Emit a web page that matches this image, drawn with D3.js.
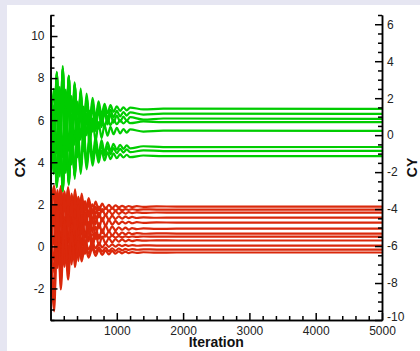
<!DOCTYPE html>
<html>
<head>
<meta charset="utf-8">
<script src="https://cdn.jsdelivr.net/npm/d3@7"></script>
<style>
  body { margin: 0; background: #e6e6f2; }
  svg { display: block; }
  .tick text { font-family: "Liberation Sans", Arial, sans-serif; font-size: 12px; fill: #222; }
  .ttl { font-family: "Liberation Sans", Arial, sans-serif; font-size: 14px; font-weight: bold; fill: #111; }
</style>
</head>
<body>
<script>
var cyIter = [0, 50, 95, 140, 185, 230, 275, 320, 365, 410, 455, 500, 545, 590, 635, 680, 725, 770, 815, 860, 905, 950, 1000, 1050, 1100, 1150, 1200, 1400, 1700, 5000];
var cy1 = [2.6, -0.65, 3.38, -0.77, 3.61, -0.60, 3.21, -0.19, 2.85, 0.16, 2.52, 0.45, 2.25, 0.71, 2.02, 0.91, 1.83, 1.08, 1.70, 1.19, 1.62, 1.26, 1.56, 1.31, 1.51, 1.34, 1.49, 1.39, 1.43, 1.42];
var cy2 = [2.2, -1.19, 3.36, -1.32, 3.62, -1.14, 3.18, -0.67, 2.76, -0.28, 2.40, 0.06, 2.09, 0.34, 1.83, 0.58, 1.62, 0.76, 1.46, 0.89, 1.37, 0.97, 1.31, 1.02, 1.25, 1.06, 1.23, 1.11, 1.16, 1.15];
var cy3 = [3.1, -1.82, 3.43, -1.97, 3.73, -1.76, 3.22, -1.22, 2.74, -0.77, 2.32, -0.38, 1.96, -0.05, 1.66, 0.22, 1.42, 0.43, 1.24, 0.58, 1.14, 0.67, 1.06, 0.73, 1.00, 0.78, 0.97, 0.84, 0.90, 0.88];
var cy4 = [-1.6, 2.51, -0.99, 2.61, -1.19, 2.47, -0.85, 2.11, -0.53, 1.81, -0.25, 1.55, -0.01, 1.33, 0.19, 1.15, 0.35, 1.01, 0.47, 0.91, 0.54, 0.85, 0.59, 0.81, 0.63, 0.78, 0.65, 0.74, 0.70, 0.71];
var cy5 = [1.4, -2.11, 2.44, -2.24, 2.70, -2.06, 2.26, -1.59, 1.84, -1.20, 1.48, -0.86, 1.17, -0.58, 0.91, -0.34, 0.70, -0.16, 0.54, -0.03, 0.45, 0.05, 0.39, 0.10, 0.33, 0.14, 0.31, 0.19, 0.24, 0.23];
var cy6 = [-2.9, 1.61, -2.77, 1.74, -3.02, 1.56, -2.59, 1.11, -2.19, 0.74, -1.84, 0.41, -1.54, 0.14, -1.29, -0.09, -1.09, -0.27, -0.94, -0.39, -0.85, -0.47, -0.79, -0.52, -0.74, -0.55, -0.72, -0.60, -0.65, -0.64];
var cy7 = [0.4, 1.13, -2.72, 1.24, -2.94, 1.09, -2.57, 0.69, -2.21, 0.36, -1.91, 0.07, -1.64, -0.17, -1.42, -0.37, -1.25, -0.52, -1.11, -0.63, -1.04, -0.70, -0.98, -0.74, -0.94, -0.77, -0.92, -0.82, -0.86, -0.85];
var cy8 = [-3.0, 0.67, -2.83, 0.77, -3.03, 0.63, -2.69, 0.27, -2.37, -0.03, -2.09, -0.29, -1.85, -0.51, -1.65, -0.69, -1.49, -0.83, -1.37, -0.93, -1.30, -0.99, -1.25, -1.03, -1.21, -1.06, -1.19, -1.10, -1.14, -1.13];

// CX = red, left axis
var cxIter = [0, 55, 105, 155, 210, 265, 320, 370, 420, 470, 520, 575, 630, 680, 730, 780, 830, 880, 930, 980, 1030, 1080, 1130, 1180, 1230, 1300, 1400, 1600, 1900, 5000];
var cx1 = [1.2, 2.89, 0.89, 2.87, 0.93, 2.82, 1.01, 2.71, 1.14, 2.51, 1.39, 2.29, 1.58, 2.13, 1.71, 2.03, 1.78, 1.98, 1.82, 1.95, 1.85, 1.93, 1.86, 1.92, 1.87, 1.91, 1.88, 1.90, 1.89, 1.89];
var cx2 = [2.6, 0.95, 2.55, 0.97, 2.52, 1.01, 2.45, 1.09, 2.35, 1.25, 2.15, 1.43, 2.00, 1.56, 1.89, 1.64, 1.84, 1.68, 1.81, 1.71, 1.79, 1.72, 1.77, 1.73, 1.77, 1.74, 1.76, 1.75, 1.75, 1.75];
var cx3 = [-0.5, 2.80, 0.40, 2.78, 0.45, 2.72, 0.54, 2.58, 0.70, 2.34, 1.00, 2.08, 1.23, 1.89, 1.38, 1.77, 1.47, 1.70, 1.52, 1.67, 1.55, 1.64, 1.56, 1.63, 1.58, 1.62, 1.59, 1.61, 1.60, 1.60];
var cx4 = [2.2, 0.07, 2.67, 0.10, 2.62, 0.16, 2.51, 0.30, 2.35, 0.56, 2.02, 0.85, 1.77, 1.06, 1.60, 1.19, 1.51, 1.26, 1.46, 1.30, 1.43, 1.32, 1.41, 1.34, 1.40, 1.35, 1.38, 1.36, 1.37, 1.37];
var cx5 = [0.3, 2.63, -0.37, 2.60, -0.31, 2.53, -0.19, 2.36, 0.01, 2.06, 0.38, 1.73, 0.67, 1.49, 0.86, 1.34, 0.97, 1.26, 1.03, 1.21, 1.06, 1.18, 1.09, 1.17, 1.10, 1.15, 1.12, 1.14, 1.13, 1.13];
var cx6 = [1.8, -0.66, 2.34, -0.63, 2.28, -0.56, 2.16, -0.39, 1.97, -0.09, 1.59, 0.24, 1.31, 0.48, 1.11, 0.63, 1.01, 0.71, 0.95, 0.76, 0.91, 0.79, 0.89, 0.80, 0.87, 0.82, 0.86, 0.83, 0.84, 0.84];
var cx7 = [-1.6, 2.01, -0.79, 1.98, -0.73, 1.91, -0.62, 1.76, -0.44, 1.48, -0.09, 1.17, 0.18, 0.95, 0.36, 0.81, 0.46, 0.73, 0.51, 0.69, 0.55, 0.66, 0.57, 0.65, 0.58, 0.63, 0.60, 0.62, 0.61, 0.61];
var cx8 = [2.7, -1.24, 1.82, -0.61, 1.38, -0.32, 1.04, 0.04, 0.78, 0.20, 0.66, 0.32, 0.58, 0.36, 0.55, 0.39, 0.52, 0.41, 0.51, 0.42, 0.49, 0.43, 0.48, 0.44, 0.47, 0.45, 0.47, 0.46, 0.46, 0.46];
var cx9 = [-2.4, 1.58, -1.02, 1.55, -0.97, 1.49, -0.86, 1.35, -0.70, 1.09, -0.37, 0.80, -0.12, 0.59, 0.05, 0.46, 0.14, 0.39, 0.19, 0.35, 0.22, 0.33, 0.24, 0.31, 0.25, 0.30, 0.27, 0.29, 0.28, 0.28];
var cx10 = [0.9, -2.16, 1.80, -1.35, 1.23, -0.97, 0.79, -0.51, 0.46, -0.30, 0.30, -0.15, 0.19, -0.09, 0.15, -0.05, 0.12, -0.03, 0.10, -0.01, 0.08, 0.01, 0.07, 0.02, 0.06, 0.03, 0.05, 0.04, 0.04, 0.04];
var cx11 = [2.4, -2.55, 1.77, -1.66, 1.15, -1.25, 0.67, -0.75, 0.31, -0.52, 0.14, -0.35, 0.02, -0.29, -0.03, -0.25, -0.06, -0.23, -0.09, -0.21, -0.10, -0.19, -0.12, -0.17, -0.13, -0.16, -0.14, -0.15, -0.15, -0.15];
var cx12 = [0.5, -3.09, 1.95, -2.05, 1.22, -1.58, 0.66, -0.99, 0.24, -0.72, 0.05, -0.53, -0.09, -0.45, -0.15, -0.41, -0.19, -0.38, -0.21, -0.35, -0.24, -0.33, -0.25, -0.32, -0.27, -0.31, -0.28, -0.30, -0.29, -0.29];

var cyLines = [cy1, cy2, cy3, cy4, cy5, cy6, cy7, cy8];
var cxLines = [cx1, cx2, cx3, cx4, cx5, cx6, cx7, cx8, cx9, cx10, cx11, cx12];

var xTicks = [1000, 2000, 3000, 4000, 5000];
var cxTicks = [-2, 0, 2, 4, 6, 8, 10];
var cyTicks = [-10, -8, -6, -4, -2, 0, 2, 4, 6];

var W = 420, H = 351;
var pLeft = 50.5, pRight = 382, pTop = 15, pBottom = 320;

var svg = d3.select("body").append("svg")
    .attr("width", W)
    .attr("height", H);

// white panel
svg.append("rect")
    .attr("x", 7).attr("y", 5)
    .attr("width", W - 7).attr("height", H - 5)
    .attr("fill", "#fff");

var x = d3.scaleLinear().domain([0, 5000]).range([pLeft, pRight]);
var yCX = d3.scaleLinear().domain([-3.5, 11]).range([pBottom, pTop]);
var yCY = d3.scaleLinear().domain([-10, 6.5]).range([pBottom, pTop]);

svg.append("clipPath").attr("id", "plot")
  .append("rect")
    .attr("x", pLeft).attr("y", pTop)
    .attr("width", pRight - pLeft).attr("height", pBottom - pTop);

var plot = svg.append("g").attr("clip-path", "url(#plot)");

function drawLines(lines, iters, yScale, colour) {
    var line = d3.line()
        .x(function(d, i) { return x(iters[i]); })
        .y(function(d) { return yScale(d); })
        .curve(d3.curveMonotoneX);
    plot.append("g")
        .selectAll("path")
        .data(lines)
        .enter()
        .append("path")
        .attr("d", line)
        .attr("fill", "none")
        .attr("stroke", colour)
        .attr("stroke-width", 2.2);
}

drawLines(cxLines, cxIter, yCX, "#da280b");
drawLines(cyLines, cyIter, yCY, "#00cc00");

// -- axes, ticks pointing inwards --
function minor(lo, hi, step, skip) {
    return d3.range(lo, hi + step / 2, step).filter(function(v) {
        return Math.abs(v / skip - Math.round(v / skip)) > 1e-6;
    });
}

function styleAxis(g) {
    g.selectAll("line, path").attr("stroke", "#000").attr("stroke-width", 1.5);
}

// plain hyphen for negatives, like the original
var fmt = function(v) { return String(v); };

// left (CX)
svg.append("g")
    .attr("transform", "translate(" + pLeft + ",0)")
    .call(d3.axisLeft(yCX).tickValues(minor(-3.5, 11, 0.5, 2)).tickSize(-4).tickSizeOuter(0).tickFormat(""))
    .call(styleAxis);
svg.append("g")
    .attr("transform", "translate(" + pLeft + ",0)")
    .call(d3.axisLeft(yCX).tickValues(cxTicks).tickSize(-7).tickSizeOuter(0).tickPadding(6).tickFormat(fmt))
    .call(styleAxis);

// right (CY)
svg.append("g")
    .attr("transform", "translate(" + pRight + ",0)")
    .call(d3.axisRight(yCY).tickValues(minor(-10, 6.5, 0.5, 2)).tickSize(-4).tickSizeOuter(0).tickFormat(""))
    .call(styleAxis);
var rightAx = svg.append("g")
    .attr("transform", "translate(" + pRight + ",0)")
    .call(d3.axisRight(yCY).tickValues(cyTicks).tickSize(-7).tickSizeOuter(0).tickPadding(5).tickFormat(fmt))
    .call(styleAxis);
// the bottom label sits slightly raised above the 5000 label
rightAx.selectAll(".tick text").filter(function(d) { return d === -10; }).attr("dy", "0.05em");

// bottom (Iteration)
svg.append("g")
    .attr("transform", "translate(0," + pBottom + ")")
    .call(d3.axisBottom(x).tickValues(minor(0, 5000, 200, 1000)).tickSize(-4).tickSizeOuter(0).tickFormat(""))
    .call(styleAxis);
svg.append("g")
    .attr("transform", "translate(0," + pBottom + ")")
    .call(d3.axisBottom(x).tickValues(xTicks).tickSize(-7).tickSizeOuter(0).tickPadding(6).tickFormat(fmt))
    .call(styleAxis);

// axis titles
svg.append("text")
    .attr("class", "ttl")
    .attr("x", (pLeft + pRight) / 2)
    .attr("y", 347)
    .attr("text-anchor", "middle")
    .text("Iteration");

svg.append("text")
    .attr("class", "ttl")
    .attr("transform", "translate(25," + (pTop + pBottom) / 2 + ") rotate(-90)")
    .attr("text-anchor", "middle")
    .text("CX");

svg.append("text")
    .attr("class", "ttl")
    .attr("transform", "translate(417," + (pTop + pBottom) / 2 + ") rotate(-90)")
    .attr("text-anchor", "middle")
    .text("CY");
</script>
</body>
</html>
